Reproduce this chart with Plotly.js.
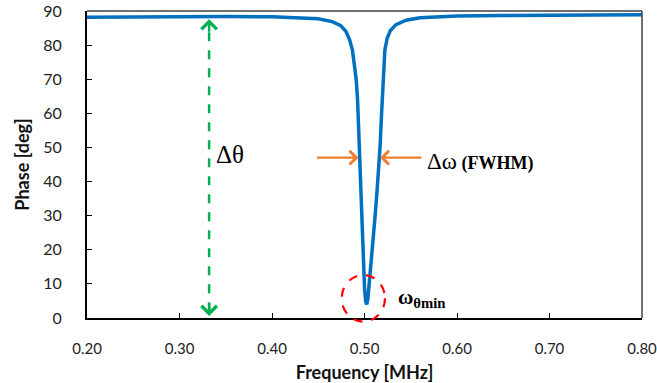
<!DOCTYPE html>
<html>
<head>
<meta charset="utf-8">
<script src="https://cdn.plot.ly/plotly-3.0.1.min.js"></script>
<style>html,body{margin:0;padding:0;background:#fff;}#chart{width:657px;height:383px;}</style>
</head>
<body>
<div id="chart"></div>
<script>
// Frequency in MHz
const frequency = [0.20, 0.25, 0.30, 0.35, 0.40, 0.43, 0.45, 0.465, 0.474, 0.480, 0.484, 0.487, 0.489, 0.491,
  0.4925, 0.4935, 0.4945, 0.4955, 0.4965, 0.4975, 0.4988, 0.5000, 0.5012, 0.5024, 0.5036, 0.505, 0.507,
  0.5095, 0.5115, 0.5135, 0.5155, 0.5170, 0.5183, 0.5193, 0.5204, 0.522, 0.5245, 0.528, 0.534, 0.545,
  0.56, 0.60, 0.65, 0.70, 0.75, 0.80];
// Phase in degrees
const phase = [88.2, 88.3, 88.4, 88.4, 88.3, 88.0, 87.7, 86.9, 85.8, 84.0, 81.5, 78.5, 75, 70,
  64, 57, 48, 39, 31, 24, 16, 9, 5, 4, 5.5, 9.5, 15.5,
  23, 30, 37, 44, 51, 59, 66, 73, 78.5, 82, 84.3, 86, 87.3,
  88, 88.5, 88.7, 88.8, 88.9, 88.9];
const xTickVals = [0.2, 0.3, 0.4, 0.5, 0.6, 0.7, 0.8];
const xTickText = ["0.20", "0.30", "0.40", "0.50", "0.60", "0.70", "0.80"];
const yTickVals = [0, 10, 20, 30, 40, 50, 60, 70, 80, 90];

const tickFont = {family: "Lato, 'Noto Sans', sans-serif", size: 16, color: "#222"};
const titleFont = {family: "Lato, 'Noto Sans', sans-serif", size: 18, color: "#111", weight: "bold"};
const serif = "'Liberation Serif', 'DejaVu Serif', serif";

const trace = {
  x: frequency, y: phase, type: "scatter", mode: "lines",
  line: {color: "#0070C0", width: 3.5}, hoverinfo: "skip"
};

const green = "#00B050", orange = "#ED7D31", red = "#FF0000";

const layout = {
  width: 657, height: 383,
  margin: {l: 87, r: 15, t: 11, b: 65},
  paper_bgcolor: "#fff", plot_bgcolor: "#fff",
  showlegend: false,
  xaxis: {
    range: [0.19999, 0.80001], tickvals: xTickVals, ticktext: xTickText,
    showgrid: false, zeroline: false,
    showline: true, linecolor: "#000", linewidth: 2,
    ticks: "inside", ticklen: 5, tickcolor: "#000", tickwidth: 1,
    tickfont: {family: tickFont.family, size: 15, color: "#222"},
    ticklabelstandoff: 16, ticklabeloverflow: "allow",
    title: {text: "Frequency [MHz]", font: titleFont, standoff: 13}
  },
  yaxis: {
    range: [0, 90.0001], tickvals: yTickVals,
    showgrid: false, zeroline: false,
    showline: true, linecolor: "#000", linewidth: 2,
    ticks: "inside", ticklen: 5, tickcolor: "#000", tickwidth: 1,
    tickfont: tickFont, ticklabelstandoff: 20, ticklabeloverflow: "allow",
    title: {text: "Phase [deg]", font: titleFont, standoff: 9}
  },
  shapes: [
    // top and right frame
    {type: "line", xref: "paper", yref: "paper", x0: 0, x1: 1, y0: 1, y1: 1, line: {color: "#404040", width: 1.5}},
    {type: "line", xref: "paper", yref: "paper", x0: 1, x1: 1, y0: 0, y1: 1, line: {color: "#404040", width: 1.5}},
    // green dashed vertical
    {type: "line", xref: "x", yref: "y", x0: 0.332, x1: 0.332, y0: 2, y1: 85.5, line: {color: green, width: 2.5, dash: "dash"}},
    // red dashed circle
    {type: "circle", xref: "paper", yref: "paper", x0: 0.4589, x1: 0.5369, y0: -0.012, y1: 0.140,
     line: {color: red, width: 2.2, dash: "dash"}}
  ],
  annotations: [
    // green arrowheads
    {x: 0.332, y: 87.6, xref: "x", yref: "y", ax: 0, ay: 14, showarrow: true, arrowhead: 4, arrowsize: 1.2, arrowwidth: 2.5, arrowcolor: green, text: ""},
    {x: 0.332, y: 0.6, xref: "x", yref: "y", ax: 0, ay: -14, showarrow: true, arrowhead: 4, arrowsize: 1.2, arrowwidth: 2.5, arrowcolor: green, text: ""},
    // orange arrows
    {x: 0.4935, y: 47, xref: "x", yref: "y", ax: -43, ay: 0, showarrow: true, arrowhead: 4, arrowsize: 1.2, arrowwidth: 2.2, arrowcolor: orange, text: ""},
    {x: 0.5168, y: 47, xref: "x", yref: "y", ax: 43, ay: 0, showarrow: true, arrowhead: 4, arrowsize: 1.2, arrowwidth: 2.2, arrowcolor: orange, text: ""},
    // labels
    {x: 0.337, y: 47.8, xref: "x", yref: "y", xanchor: "left", yanchor: "middle", showarrow: false,
     text: "Δθ", font: {family: serif, size: 25, color: "#000"}},
    {x: 0.5656, y: 46.0, xref: "x", yref: "y", xanchor: "left", yanchor: "middle", showarrow: false,
     text: "<span style='font-size:23px'>Δω</span> <b>(FWHM)</b>", font: {family: serif, size: 18, color: "#000"}},
    {x: 0.5340, y: 5.8, xref: "x", yref: "y", xanchor: "left", yanchor: "middle", showarrow: false,
     text: "<b>ω<sub>θmin</sub></b>", font: {family: serif, size: 21, color: "#000"}}
  ]
};

Plotly.newPlot("chart", [trace], layout, {displayModeBar: false, staticPlot: true});
</script>
</body>
</html>
